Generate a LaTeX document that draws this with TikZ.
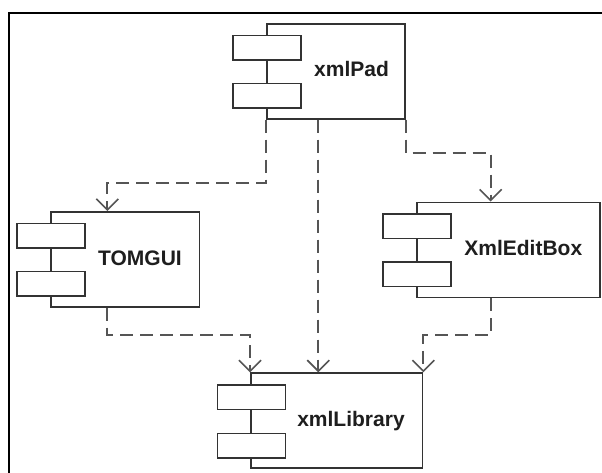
\documentclass[tikz,border=0pt]{standalone}
\usepackage{fontspec}
\setmainfont{Liberation Sans}
\usetikzlibrary{arrows.meta}
\definecolor{boxline}{HTML}{333333}
\definecolor{depline}{HTML}{555555}
\definecolor{txt}{HTML}{1E1E1E}
\tikzset{
  mainbox/.style={draw=boxline, line width=1.7pt, fill=white, rectangle, inner sep=0pt, anchor=north west, minimum height=95pt},
  partbox/.style={draw=boxline, line width=1.7pt, fill=white, rectangle, inner sep=0pt, anchor=north west, minimum width=68pt, minimum height=24.5pt},
  lbl/.style={font=\fontsize{21}{25}\selectfont\bfseries, text=txt, anchor=base, inner sep=0pt},
  dep/.style={draw=depline, line width=1.9pt, dash pattern=on 13pt off 7pt, -{Straight Barb[length=11pt,width=22pt,line width=1.6pt]}},
}
\begin{document}
\begin{tikzpicture}[x=1pt,y=-1pt]
\useasboundingbox (0,0) rectangle (602,472);
\fill[white] (0,0) rectangle (602,472);
% frame
\draw[line width=2.4pt, black] (9,480) -- (9,13) -- (610,13);

% xmlPad
\node[mainbox, minimum width=138pt] (pad) at (266,23) {};
\node[partbox] (pad1) at (232,34.5) {};
\node[partbox] (pad2) at (232,82.5) {};
\node[lbl] (padl) at (351.5,76.5) {xmlPad};

% TOMGUI
\node[mainbox, minimum width=148.5pt] (tom) at (50,211) {};
\node[partbox] (tom1) at (16,222.5) {};
\node[partbox] (tom2) at (16,270.5) {};
\node[lbl] (toml) at (140,265) {TOMGUI};

% XmlEditBox
\node[mainbox, minimum width=183pt] (edit) at (416,201.5) {};
\node[partbox] (edit1) at (382.3,213) {};
\node[partbox] (edit2) at (382.3,261) {};
\node[lbl] (editl) at (523.3,255) {XmlEditBox};

% xmlLibrary
\node[mainbox, minimum width=171.7pt] (lib) at (250,372.3) {};
\node[partbox] (lib1) at (216.7,384) {};
\node[partbox] (lib2) at (216.7,432.5) {};
\node[lbl] (libl) at (351,426) {xmlLibrary};

% route points
\coordinate (c1) at (107.3,182.7);
\coordinate (c2) at (490.7,152.7);
\coordinate (c3) at (318.3,0);
\coordinate (c4) at (107.3,335);
\coordinate (c5) at (490.7,335);

% dependencies
\draw[dep] (pad.south west) |- (c1) -- (tom.north -| c1);
\draw[dep] (pad.south east) |- (c2) -- (edit.north -| c2);
\draw[dep] (pad.south -| c3) -- (lib.north -| c3);
\draw[dep] (tom.south -| c4) -- (c4) -| (lib.north west);
\draw[dep] (edit.south -| c5) -- (c5) -| (lib.north east);
\end{tikzpicture}
\end{document}
